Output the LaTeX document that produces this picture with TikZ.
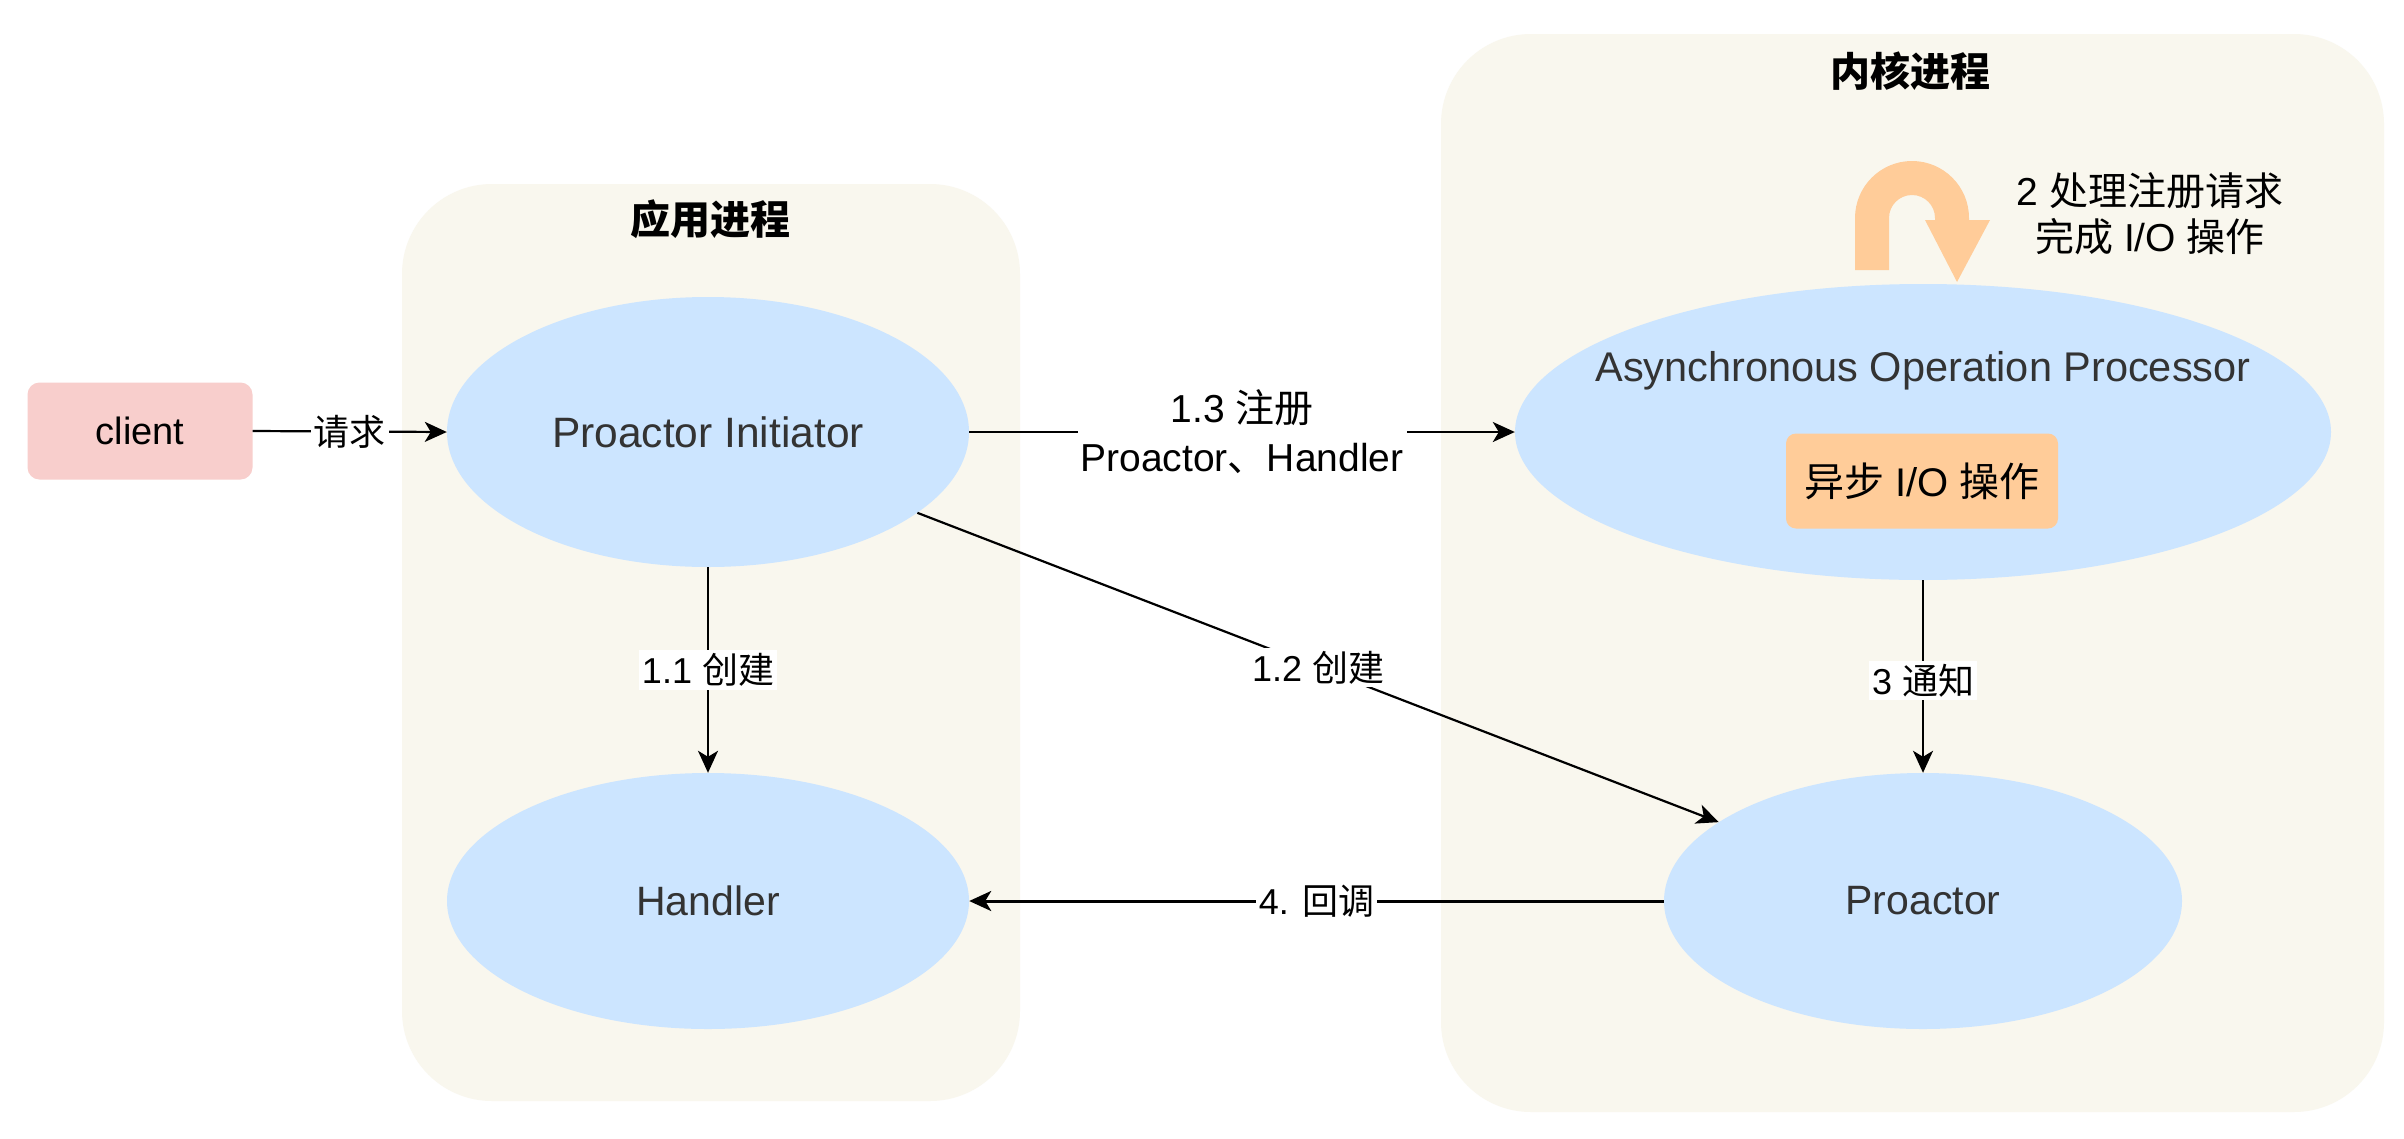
\documentclass[tikz,border=0pt]{standalone}
\usepackage{fontspec}
\setmainfont{Liberation Sans}
\newfontfamily\cjk{Noto Sans CJK SC}
\usetikzlibrary{shapes.geometric,arrows.meta}
\definecolor{panel}{HTML}{F9F7EE}
\definecolor{ell}{HTML}{CCE5FF}
\definecolor{cli}{HTML}{F8CECC}
\definecolor{org}{HTML}{FFCC99}
\definecolor{txt}{HTML}{333333}
\begin{document}
\begin{tikzpicture}[x=1pt,y=-1pt,
  ellnode/.style={ellipse, fill=ell, draw=none, inner sep=0pt, text=txt, font=\fontsize{41}{48}\selectfont},
  conn/.style={line width=2.2pt, draw=black, -{Stealth[length=22pt,width=20pt,inset=6pt]}},
  lbl/.style={fill=white, inner sep=3pt, font=\fontsize{36}{44}\selectfont, text=black, align=center},
  panelbox/.style={rectangle, fill=panel, rounded corners=90pt, draw=none, inner sep=0pt},
  titlenode/.style={font=\cjk\bfseries\fontsize{40}{48}\selectfont, text=black}]

\useasboundingbox[fill=white] (0,0) rectangle (2404,1138);

% panels
\node[panelbox, minimum width=618pt, minimum height=917pt] (app) at (711,642.5) {};
\node[panelbox, minimum width=943pt, minimum height=1078pt] (kern) at (1912.5,573) {};
\node[titlenode] (apptitle) at (710,219) {应用进程};
\node[titlenode] (kerntitle) at (1910,71) {内核进程};

% nodes
\node[rectangle, fill=cli, rounded corners=12pt, minimum width=225pt, minimum height=97pt,
      font=\fontsize{38}{46}\selectfont] (client) at (140,431) {client};
\node[ellnode, minimum width=522pt, minimum height=270pt, font=\fontsize{42.5}{48}\selectfont] (PI) at (708,432) {Proactor Initiator};
\node[ellnode, minimum width=522pt, minimum height=256pt] (H) at (708,901) {Handler};
\node[ellnode, minimum width=816pt, minimum height=296pt] (AOP) at (1923,432) {};
\node[text=txt, font=\fontsize{41.5}{48}\selectfont] (aoptext) at (1923,371) {Asynchronous Operation Processor};
\node[rectangle, fill=org, rounded corners=10pt, minimum width=272pt, minimum height=95pt,
      font=\fontsize{40}{48}\selectfont] (io) at (1922,481) {{\cjk 异步} I/O {\cjk 操作}};
\node[ellnode, minimum width=518pt, minimum height=256pt] (P) at (1923,901) {Proactor};

% u-turn arrow
\fill[org] (1855,270) -- (1855,218) arc[start angle=180, end angle=0, radius=57pt]
  -- (1969,220) -- (1990,220) -- (1957,282) -- (1925,220) -- (1935,220) -- (1935,218)
  arc[start angle=0, end angle=180, radius=23pt] -- (1889,270) -- cycle;
\node[font=\fontsize{39}{46}\selectfont, align=center, text=black] (step2) at (2150,214)
  {2 {\cjk 处理注册请求}\\{\cjk 完成} I/O {\cjk 操作}};

% connectors
\draw[conn] (client.east) -- node[lbl] {\cjk 请求} (PI.west);
\draw[conn] (PI.east) -- node[lbl, font=\fontsize{39}{49}\selectfont] {1.3 {\cjk 注册}\\Proactor{\cjk 、}Handler} (AOP.west);
\draw[conn] (PI.south) -- node[lbl] {1.1 {\cjk 创建}} (H.north);
\draw[conn] (PI) -- node[lbl, pos=0.5] {1.2 {\cjk 创建}} (P);
\draw[conn] (AOP.south) -- node[lbl, pos=0.52] {3 {\cjk 通知}} (P.north);
\draw[conn, line width=3pt] (P.west) -- node[lbl] {4. {\cjk 回调}} (H.east);
\end{tikzpicture}
\end{document}
